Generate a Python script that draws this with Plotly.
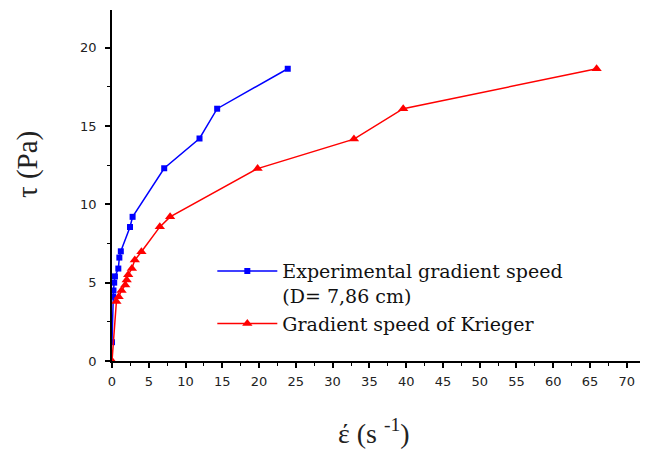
import plotly.graph_objects as go

# Experimental gradient speed (D = 7,86 cm)
exp_x = [0, 0.15, 0.2, 0.3, 0.4, 0.86, 1.0, 1.2, 2.45, 2.8, 7.1, 11.9, 14.3, 23.9]
exp_y = [1.2, 4.1, 4.5, 5.0, 5.4, 5.9, 6.6, 7.0, 8.55, 9.2, 12.3, 14.2, 16.1, 18.65]

# Gradient speed of Krieger
kr_x = [0, 0.6, 0.9, 1.3, 1.8, 2.0, 2.2, 2.7, 3.1, 4.0, 6.5, 7.9, 19.8, 32.9, 39.6, 65.9]
kr_y = [0, 3.8, 4.1, 4.5, 4.85, 5.17, 5.5, 5.9, 6.44, 6.97, 8.56, 9.2, 12.28, 14.16, 16.1, 18.65]

x_ticks = list(range(0, 71, 5))
y_ticks = [0, 5, 10, 15, 20]

fig = go.Figure()
fig.add_trace(go.Scatter(
    x=exp_x, y=exp_y, mode="lines+markers",
    name="Experimental gradient speed<br>(D= 7,86 cm)",
    line=dict(color="#0000ff", width=1.5),
    marker=dict(symbol="square", size=6, color="#0000ff"),
))
fig.add_trace(go.Scatter(
    x=kr_x, y=kr_y, mode="lines+markers",
    name="Gradient speed of Krieger",
    line=dict(color="#ff0000", width=1.5),
    marker=dict(symbol="triangle-up", size=9, color="#ff0000"),
))

axis_common = dict(
    showline=True, linecolor="black", linewidth=1.5,
    showgrid=False, zeroline=False,
    ticks="outside", ticklen=5, tickwidth=1.5, tickcolor="black",
    tickfont=dict(family="DejaVu Sans", size=13, color="#222"),
)

fig.update_xaxes(
    range=[0, 71.8], tickmode="array", tickvals=x_ticks,
    ticktext=[str(v) for v in x_ticks],
    minor=dict(dtick=2.5, ticks="outside", ticklen=3, tickcolor="black", tickwidth=1),
    ticklabelstandoff=3,
    **axis_common,
)
fig.update_yaxes(
    range=[0, 22.4], tickmode="array", tickvals=y_ticks,
    ticktext=[str(v) for v in y_ticks],
    minor=dict(dtick=2.5, ticks="outside", ticklen=3, tickcolor="black", tickwidth=1),
    ticklabelstandoff=6,
    **axis_common,
)

fig.add_annotation(
    text="τ (Pa)", xref="paper", yref="paper", x=-0.16, y=0.56,
    xanchor="center", yanchor="middle",
    textangle=-90, showarrow=False,
    font=dict(family="Liberation Serif", size=29, color="#222"),
)
fig.add_annotation(
    text="έ (s <sup>-1</sup>)", xref="paper", yref="paper", x=0.497, y=-0.2,
    xanchor="center", yanchor="middle",
    showarrow=False,
    font=dict(family="Liberation Serif", size=28, color="#222"),
)

fig.update_layout(
    width=645, height=450,
    margin=dict(l=112, r=5, t=10, b=89),
    plot_bgcolor="white", paper_bgcolor="white",
    showlegend=True,
    legend=dict(
        x=0.19, y=0.31, xanchor="left", yanchor="top",
        bgcolor="rgba(0,0,0,0)", valign="top", itemwidth=60,
        font=dict(family="DejaVu Serif", size=19, color="#111"),
        tracegroupgap=0,
    ),
)

fig.write_html("out.html")
